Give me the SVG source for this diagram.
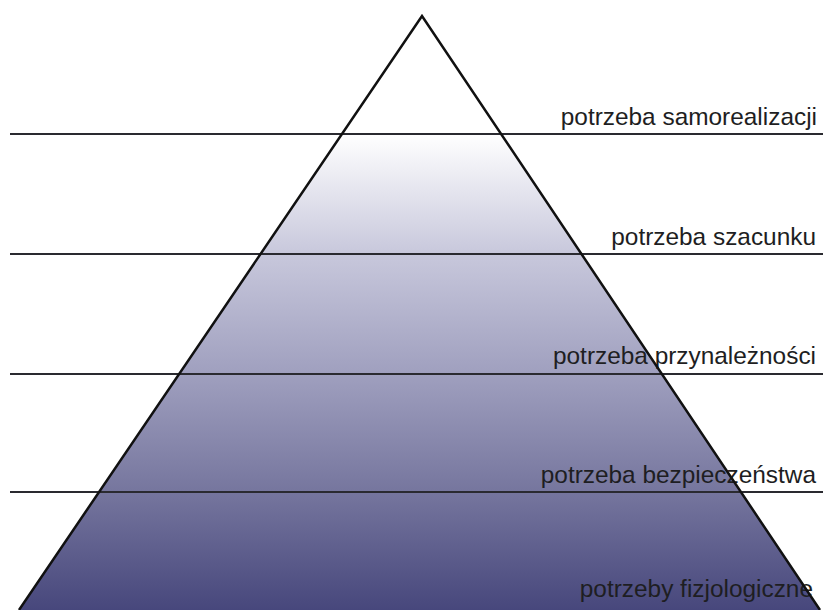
<svg xmlns="http://www.w3.org/2000/svg" width="823" height="610" viewBox="0 0 823 610">
<style>
.lbl{font-family:"Liberation Sans",Arial,sans-serif;font-size:24.4px;fill:#1e1e22;text-anchor:end}
.h{stroke:#2a2a30;stroke-width:2;fill:none}
</style>
<defs>
<linearGradient id="g" x1="0" y1="134" x2="0" y2="610" gradientUnits="userSpaceOnUse">
<stop offset="0" stop-color="#ffffff"/>
<stop offset="0.25" stop-color="#c8c8dc"/>
<stop offset="0.5" stop-color="#a0a0bf"/>
<stop offset="0.75" stop-color="#76769e"/>
<stop offset="1" stop-color="#47477c"/>
</linearGradient>
</defs>
<rect width="823" height="610" fill="#ffffff"/>
<g id="pyramid">
<polygon points="342,134 501,134 820,610 19,610" fill="url(#g)"/>
</g>
<g id="connectors">
<line class="h" x1="10" y1="134" x2="823" y2="134"/>
<line class="h" x1="10" y1="254" x2="823" y2="254"/>
<line class="h" x1="10" y1="374" x2="823" y2="374"/>
<line class="h" x1="10" y1="492" x2="823" y2="492"/>
</g>
<g id="level5"><text class="lbl" x="817" y="125">potrzeba samorealizacji</text></g>
<g id="level4"><text class="lbl" x="816" y="245">potrzeba szacunku</text></g>
<g id="level3"><text class="lbl" x="816" y="364">potrzeba przynależności</text></g>
<g id="level2"><text class="lbl" x="816" y="483">potrzeba bezpieczeństwa</text></g>
<g id="level1"><text class="lbl" x="813" y="597">potrzeby fizjologiczne</text></g>
<g id="outline">
<polyline points="19,610 422,16 820,610" fill="none" stroke="#111" stroke-width="2.5" stroke-linejoin="miter"/>
</g>
</svg>
